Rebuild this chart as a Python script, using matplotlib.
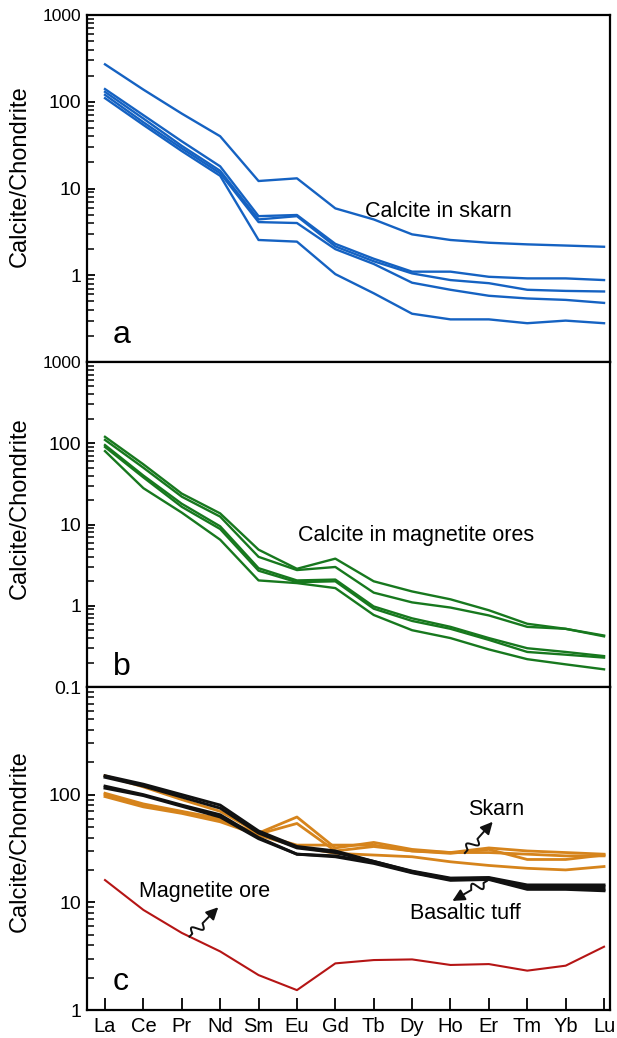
import numpy as np
import matplotlib.pyplot as plt
from matplotlib.ticker import FixedLocator, LogLocator, NullFormatter

plt.rcParams['font.family'] = ['Liberation Sans', 'DejaVu Sans']

# REE order on the x axis
elements = ['La', 'Ce', 'Pr', 'Nd', 'Sm', 'Eu', 'Gd', 'Tb', 'Dy', 'Ho', 'Er', 'Tm', 'Yb', 'Lu']

# (a) calcite in skarn, chondrite-normalised
skarn_calcite = [
    [270, 138, 73, 40, 12.2, 13.1, 5.9, 4.4, 2.96, 2.55, 2.37, 2.27, 2.2, 2.13],
    [140, 70, 35, 18, 4.8, 4.95, 2.3, 1.55, 1.1, 1.1, 0.96, 0.92, 0.92, 0.88],
    [130, 64, 31, 16, 4.4, 4.8, 2.15, 1.45, 1.05, 0.88, 0.81, 0.68, 0.66, 0.65],
    [120, 58, 29, 15, 4.1, 4.0, 2.0, 1.35, 0.82, 0.68, 0.58, 0.54, 0.52, 0.48],
    [110, 54, 27, 14, 2.55, 2.44, 1.03, 0.62, 0.36, 0.31, 0.31, 0.28, 0.30, 0.28],
]

# (b) calcite in magnetite ores
ore_calcite = [
    [120, 55, 24, 13.7, 4.9, 2.85, 3.8, 2.0, 1.5, 1.2, 0.88, 0.6, 0.52, 0.43],
    [110, 50, 22, 12.5, 4.0, 2.75, 3.0, 1.45, 1.1, 0.95, 0.76, 0.55, 0.52, 0.42],
    [95, 40, 18, 9.5, 2.9, 2.05, 2.1, 0.98, 0.7, 0.55, 0.40, 0.30, 0.27, 0.24],
    [90, 38, 16.5, 8.8, 2.7, 1.95, 2.0, 0.92, 0.65, 0.52, 0.38, 0.27, 0.25, 0.23],
    [80, 28, 14, 6.5, 2.05, 1.9, 1.65, 0.77, 0.5, 0.4, 0.29, 0.22, 0.19, 0.165],
]

# (c) whole rocks
tuff = [
    [150, 125, 100, 80, 46, 33, 30, 24, 19.5, 16.8, 17, 14.5, 14.5, 14.5],
    [145, 120, 95, 75, 44, 32, 29, 24, 19.3, 16.5, 16.8, 14, 14, 14],
    [120, 100, 80, 65, 40, 28, 27, 23.5, 19, 16.3, 16.5, 13.5, 13.5, 13.2],
    [115, 98, 78, 62, 39, 28, 26.5, 23, 18.8, 16, 16.3, 13.2, 13.2, 12.8],
]
skarn_rock = [
    [150, 118, 90, 70, 44, 62, 32, 36, 31, 29, 32, 30, 29, 28],
    [100, 80, 69, 58, 43, 54, 30, 33, 30, 28.5, 31, 25, 25, 27.5],
    [103, 82, 70, 60, 43, 34, 34, 34, 30, 29, 29, 28, 27, 27],
    [96, 77, 67, 56, 42, 33, 28.5, 27.5, 26.5, 23.8, 22, 20.7, 20, 21.5],
]
magnetite_ore = [16.1, 8.5, 5.2, 3.5, 2.11, 1.53, 2.71, 2.91, 2.95, 2.62, 2.67, 2.32, 2.58, 3.87]

BLUE = '#1562c2'
GREEN = '#17781e'
ORANGE = '#d6841c'
RED = '#b51515'
BLACK = '#111111'

x = np.arange(len(elements))

fig = plt.figure(figsize=(6.17, 10.38), dpi=100)
left, width = 0.141, 0.8477
ax_a = fig.add_axes([left, 0.65125, width, 0.3343])
ax_b = fig.add_axes([left, 0.33815, width, 0.3131])
ax_c = fig.add_axes([left, 0.02697, width, 0.3112])


def style_axis(ax, ylim, yticks, label_y):
    ax.set_yscale('log')
    ax.set_xlim(-0.469, 13.156)
    ax.set_ylim(*ylim)
    ax.yaxis.set_major_locator(FixedLocator(yticks))
    ax.set_yticks(yticks, labels=[('%g' % t) for t in yticks])
    ax.yaxis.set_minor_locator(LogLocator(base=10, subs=np.arange(2, 10)))
    ax.yaxis.set_minor_formatter(NullFormatter())
    ax.tick_params(axis='y', which='major', direction='in', length=6, width=1.3,
                   labelsize=14, pad=4)
    ax.tick_params(axis='y', which='minor', direction='in', length=5, width=1.1)
    for lbl in ax.get_yticklabels():
        if lbl.get_text() == '1000':
            lbl.set_fontsize(12.5)
    for sp in ax.spines.values():
        sp.set_linewidth(1.6)
    ax.set_ylabel('Calcite/Chondrite', fontsize=17)
    ax.yaxis.set_label_coords(-0.108, label_y)


style_axis(ax_a, (0.1, 1000), [1, 10, 100, 1000], 0.536)
style_axis(ax_b, (0.1, 1000), [0.1, 1, 10, 100, 1000], 0.55)
style_axis(ax_c, (1, 1000), [1, 10, 100], 0.523)

for ax in (ax_a, ax_b):
    ax.tick_params(axis='x', which='both', bottom=False, labelbottom=False)

ax_c.set_xticks(x, labels=elements)
ax_c.tick_params(axis='x', direction='in', length=8.6, width=1.3, labelsize=14.5, pad=5)

# panel a
for row in skarn_calcite:
    ax_a.plot(x, row, color=BLUE, lw=1.7)
ax_a.text(6.78, 5.5, 'Calcite in skarn', fontsize=15.5, va='center', ha='left')
ax_a.text(0.21, 0.166, 'a', fontsize=23, va='baseline', ha='left')

# panel b
for row in ore_calcite:
    ax_b.plot(x, row, color=GREEN, lw=1.7)
ax_b.text(5.03, 7.4, 'Calcite in magnetite ores', fontsize=15.5, va='center', ha='left')
ax_b.text(0.21, 0.14, 'b', fontsize=23, va='baseline', ha='left')

# panel c
for row in skarn_rock:
    ax_c.plot(x, row, color=ORANGE, lw=2.0)
for row in tuff:
    ax_c.plot(x, row, color=BLACK, lw=2.1)
ax_c.plot(x, magnetite_ore, color=RED, lw=1.5)
ax_c.text(0.21, 1.53, 'c', fontsize=23, va='baseline', ha='left')


def wiggle_arrow(ax, tail, head, amp=5.0):
    # a short S-shaped kink near the tail, then a straight shaft to the head
    p0 = ax.transData.transform(tail)
    p1 = ax.transData.transform(head)
    d = p1 - p0
    n = np.array([-d[1], d[0]]) / np.hypot(*d)
    s = np.linspace(0, 0.78, 200)
    w0, w1 = 0.1, 0.45
    inside = (s > w0) & (s < w1)
    off = np.where(inside, amp * np.sin((s - w0) / (w1 - w0) * 2 * np.pi), 0.0)
    pts = p0 + np.outer(s, d) + np.outer(off, n)
    dat = ax.transData.inverted().transform(pts)
    ax.plot(dat[:, 0], dat[:, 1], color=BLACK, lw=1.4)
    ax.annotate('', xy=head, xytext=tuple(dat[-1]),
                arrowprops=dict(arrowstyle='-|>', color=BLACK, lw=1.4,
                                mutation_scale=18, shrinkA=0, shrinkB=0))


ax_c.text(10.18, 73.5, 'Skarn', fontsize=15.5, ha='center', va='center')
wiggle_arrow(ax_c, (9.375, 28.7), (10.1, 56))

ax_c.text(9.375, 7.8, 'Basaltic tuff', fontsize=15.5, ha='center', va='center')
wiggle_arrow(ax_c, (9.95, 15.8), (9.05, 10.3))

ax_c.text(2.59, 12.5, 'Magnetite ore', fontsize=15.5, ha='center', va='center')
wiggle_arrow(ax_c, (2.2, 4.8), (2.95, 9.0))

fig.savefig('out.png', dpi=100, facecolor='white')
plt.close(fig)
